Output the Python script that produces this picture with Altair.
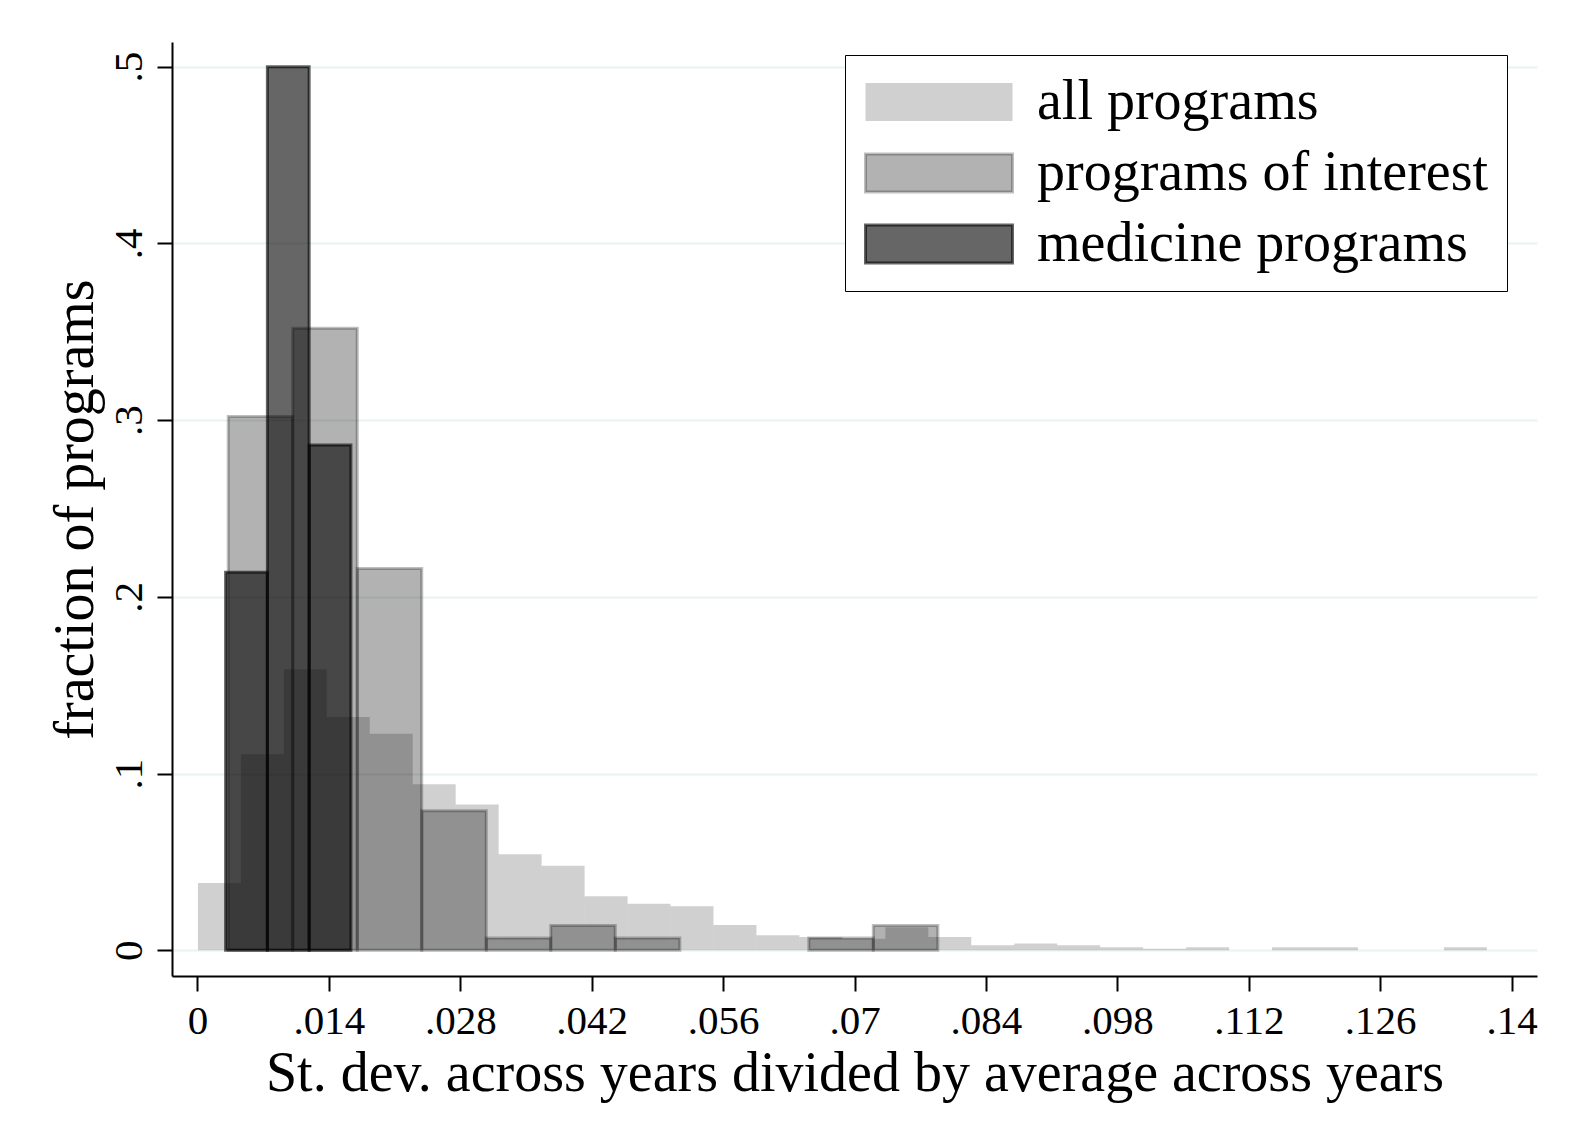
import altair as alt
import pandas as pd

# ---- data ----
series_names = ["all programs", "programs of interest", "medicine programs"]

# all programs: 30 bins
all_start = 0.00005
all_width = 0.004577
all_frac = [0.0381, 0.111, 0.159, 0.132, 0.1225, 0.094, 0.0825, 0.0543, 0.0479, 0.0306,
            0.0264, 0.0249, 0.0143, 0.0085, 0.0075, 0.0066, 0.013, 0.0075, 0.0028, 0.0038,
            0.0028, 0.0017, 0.0009, 0.0017, 0.0, 0.0017, 0.0017, 0.0, 0.0, 0.0017]

# programs of interest
int_start = 0.00328
int_width = 0.006872
int_frac = [0.302, 0.352, 0.216, 0.079, 0.007, 0.014, 0.007, 0.0, 0.0, 0.007, 0.014]

# medicine programs
med_start = 0.0030
med_width = 0.00445
med_frac = [0.214, 0.5, 0.286]

x_ticks = [0, 0.014, 0.028, 0.042, 0.056, 0.07, 0.084, 0.098, 0.112, 0.126, 0.14]
y_ticks = [0, 0.1, 0.2, 0.3, 0.4, 0.5]

x_title = "St. dev. across years divided by average across years"
y_title = "fraction of programs"

# translucent black fills / outlines (Stata-like %opacity)
fill_colors = ["rgba(0,0,0,0.184)", "rgba(0,0,0,0.3)", "rgba(0,0,0,0.6)"]
line_colors = ["rgba(0,0,0,0)", "rgba(0,0,0,0.25)", "rgba(0,0,0,0.6)"]

rows = []
for name, start, width, fracs in [
    (series_names[0], all_start, all_width, all_frac),
    (series_names[1], int_start, int_width, int_frac),
    (series_names[2], med_start, med_width, med_frac),
]:
    for i, f in enumerate(fracs):
        if f <= 0:
            continue
        rows.append({"series": name, "x0": start + i * width,
                     "x1": start + (i + 1) * width, "frac": f, "base": 0.0})
df = pd.DataFrame(rows)

FONT = "Liberation Serif"

legend = alt.Legend(
    title=None,
    orient="none",
    legendX=673,
    legendY=13,
    symbolType="M-1,-0.2585H1V0.2585H-1Z",
    symbolSize=21609,
    symbolStrokeWidth=3,
    clipHeight=56,
    labelFont=FONT,
    labelFontSize=56,
    labelColor="black",
    labelOffset=23,
    labelLimit=800,
    rowPadding=15,
    padding=19,
    strokeColor="black",
    fillColor="white",
)

chart = alt.Chart(df).mark_bar(strokeWidth=3).encode(
    x=alt.X("x0:Q",
            scale=alt.Scale(domain=[-0.00271, 0.1427], nice=False, zero=False),
            axis=alt.Axis(values=x_ticks, title=x_title, grid=False,
                          labelExpr="datum.value == 0 ? '0' : substring(format(datum.value, '.3~f'), 1)",
                          labelFontSize=41, labelPadding=10,
                          titleY=114, titleBaseline="alphabetic")),
    x2="x1:Q",
    y=alt.Y("frac:Q",
            scale=alt.Scale(domain=[-0.01455, 0.514], nice=False, zero=False),
            axis=alt.Axis(values=y_ticks, title=y_title, grid=True,
                          labelExpr="datum.value == 0 ? '0' : substring(format(datum.value, '.1~f'), 1)",
                          labelAngle=270, labelAlign="center", labelBaseline="alphabetic",
                          labelFontSize=41, labelPadding=16,
                          titleAngle=270, titleAlign="center", titleBaseline="alphabetic",
                          titleX=-80, titleY=467)),
    y2="base:Q",
    fill=alt.Fill("series:N", scale=alt.Scale(domain=series_names, range=fill_colors), legend=legend),
    stroke=alt.Stroke("series:N", scale=alt.Scale(domain=series_names, range=line_colors), legend=legend),
).properties(
    width=1365,
    height=934,
    autosize=alt.AutoSizeParams(type="none"),
    padding={"left": 164, "top": 34, "right": 33, "bottom": 164},
    background="white",
).configure_view(
    stroke=None
).configure_axis(
    domainColor="black",
    domainWidth=2,
    tickColor="black",
    tickWidth=2,
    tickSize=15,
    gridColor="#eaf2f3",
    gridWidth=2,
    labelFont=FONT,
    labelColor="black",
    titleFont=FONT,
    titleFontSize=56,
    titleFontWeight="normal",
    titleColor="black",
)

chart.save("out.html", embed_options={"renderer": "svg", "actions": False})
